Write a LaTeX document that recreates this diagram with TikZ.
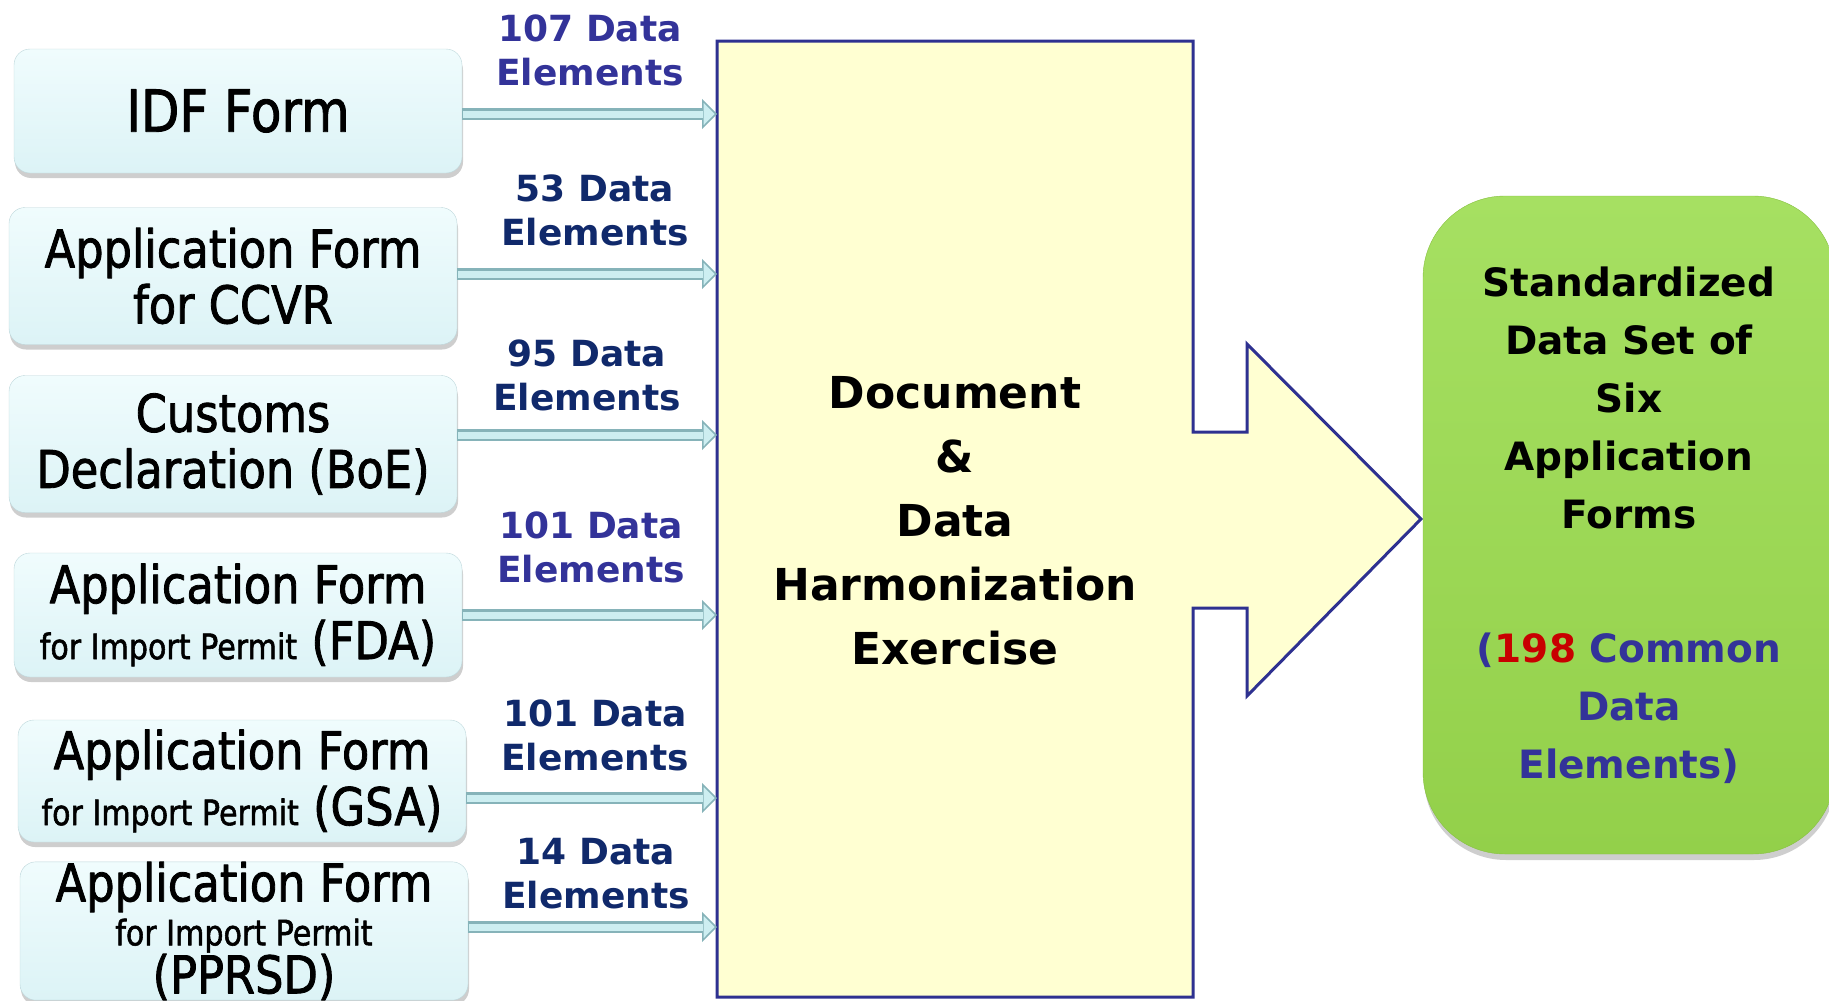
\documentclass[tikz,border=0pt]{standalone}
\usepackage{fontspec}
\setmainfont{DejaVu Sans}
\newfontfamily\formfont[FakeStretch=0.86,FakeBold=1.6]{DejaVu Sans}
\usetikzlibrary{arrows.meta,shadows}
\definecolor{docfill}{HTML}{FFFFD2}
\definecolor{docedge}{HTML}{2E3190}
\definecolor{formtop}{HTML}{F0FCFD}
\definecolor{formbot}{HTML}{DCF3F6}
\definecolor{formedge}{HTML}{BCD6DA}
\definecolor{feedfill}{HTML}{CDEEF1}
\definecolor{feededge}{HTML}{86B3B9}
\definecolor{stdtop}{HTML}{A6E062}
\definecolor{stdbot}{HTML}{93D04A}
\definecolor{stdedge}{HTML}{86C040}
\definecolor{countblue}{HTML}{333399}
\definecolor{countnavy}{HTML}{10296B}
\definecolor{hotred}{HTML}{C80000}
\newcommand{\permit}{{\fontsize{35}{40}\selectfont for Import Permit}}
\begin{document}
\begin{tikzpicture}[x=1pt, y=-1pt, line join=round, line cap=round,
	form/.style={draw=formedge, top color=formtop, bottom color=formbot, rounded corners=16pt,
		minimum width=448pt, minimum height=124pt, align=center, inner sep=0pt,
		font=\formfont\fontsize{52}{56}\selectfont,
		drop shadow={shadow xshift=1pt, shadow yshift=-5pt, opacity=0.35, fill=black!55}},
	count/.style={align=center, inner sep=0pt, font=\bfseries\fontsize{36}{44}\selectfont},
	feed/.style={line width=12pt, draw=feededge, line cap=butt,
		-{Triangle[length=15pt, width=30pt, line width=1.5pt, fill=feedfill]},
		postaction={draw=feedfill, line width=7pt, shorten >=14pt, shorten <=1pt, -}}]
	\useasboundingbox (0,0) rectangle (1829,1001);
	\clip (0,0) rectangle (1829,1001);
	%%%%%%%%%%%%%%%%%%%%%%%%%%%%%%%%%
	\coordinate (nw) at (717,41);
	\coordinate (ne) at (1193,41);
	\coordinate (se) at (1193,997);
	\coordinate (sw) at (717,997);
	\coordinate (tip) at (1421,519);
	%%%%%%%%%%%%%%%%%%%%%%%%%%%%%%%%%
	\filldraw [fill=docfill, draw=docedge, line width=3pt, line cap=butt, line join=miter]
		(nw) -- (ne) -- (1193,432) -- (1247,432) -- (1247,344) -- (tip)
		-- (1247,696) -- (1247,608) -- (1193,608) -- (se) -- (sw) -- cycle;
	\node [align=center, font=\bfseries\fontsize{44}{64}\selectfont] (doc) at (955,521)
		{Document\\ \&\\ Data\\ Harmonization\\ Exercise};
	%%%%%%%%%%%%%%%%%%%%%%%%%%%%%%%%%
	\node [draw=stdedge, top color=stdtop, bottom color=stdbot, rounded corners=82pt,
		minimum width=412pt, minimum height=658pt, align=center,
		font=\bfseries\fontsize{39}{58}\selectfont,
		drop shadow={shadow xshift=1pt, shadow yshift=-6pt, opacity=0.35, fill=black!55}] (std) at (1629,525)
		{Standardized\\ Data Set of\\ Six\\ Application\\ Forms\\[76pt]
		\textcolor{countblue}{(}\textcolor{hotred}{198} \textcolor{countblue}{Common}\\
		\textcolor{countblue}{Data}\\ \textcolor{countblue}{Elements)}};
	%%%%%%%%%%%%%%%%%%%%%%%%%%%%%%%%%
	\node [form, font=\formfont\fontsize{58}{56}\selectfont] (idf) at (238,111) {IDF Form};
	\node [form, minimum height=137pt] (ccvr) at (233,276) {Application Form\\ for CCVR};
	\node [form, minimum height=137pt] (boe) at (233,444) {Customs\\ Declaration (BoE)};
	\node [form] (fda) at (238,615) {Application Form\\ \permit{} (FDA)};
	\node [form, minimum height=122pt] (gsa) at (242,781) {Application Form\\ \permit{} (GSA)};
	\node [form] (pprsd) at (244,931) {Application Form\\[-12pt] \permit\\[-8pt] (PPRSD)};
	%%%%%%%%%%%%%%%%%%%%%%%%%%%%%%%%%
	\node [count, text=countblue] (n107) at (590,50) {107 Data\\ Elements};
	\node [count, text=countnavy] (n53) at (595,210) {53 Data\\ Elements};
	\node [count, text=countnavy] (n95) at (587,375) {95 Data\\ Elements};
	\node [count, text=countblue] (n101a) at (591,547) {101 Data\\ Elements};
	\node [count, text=countnavy] (n101b) at (595,735) {101 Data\\ Elements};
	\node [count, text=countnavy] (n14) at (596,874) {14 Data\\ Elements};
	%%%%%%%%%%%%%%%%%%%%%%%%%%%%%%%%%
	\draw [feed] ([yshift=-3pt]idf.east) -- ([yshift=-3pt]idf.east -| nw);
	\draw [feed] ([yshift=2pt]ccvr.east) -- ([yshift=2pt]ccvr.east -| nw);
	\draw [feed] ([yshift=9pt]boe.east) -- ([yshift=9pt]boe.east -| nw);
	\draw [feed] (fda.east) -- (fda.east -| nw);
	\draw [feed] ([yshift=-17pt]gsa.east) -- ([yshift=-17pt]gsa.east -| nw);
	\draw [feed] ([yshift=4pt]pprsd.east) -- ([yshift=4pt]pprsd.east -| nw);
	%%%%%%%%%%%%%%%%%%%%%%%%%%%%%%%%%
\end{tikzpicture}
\end{document}
